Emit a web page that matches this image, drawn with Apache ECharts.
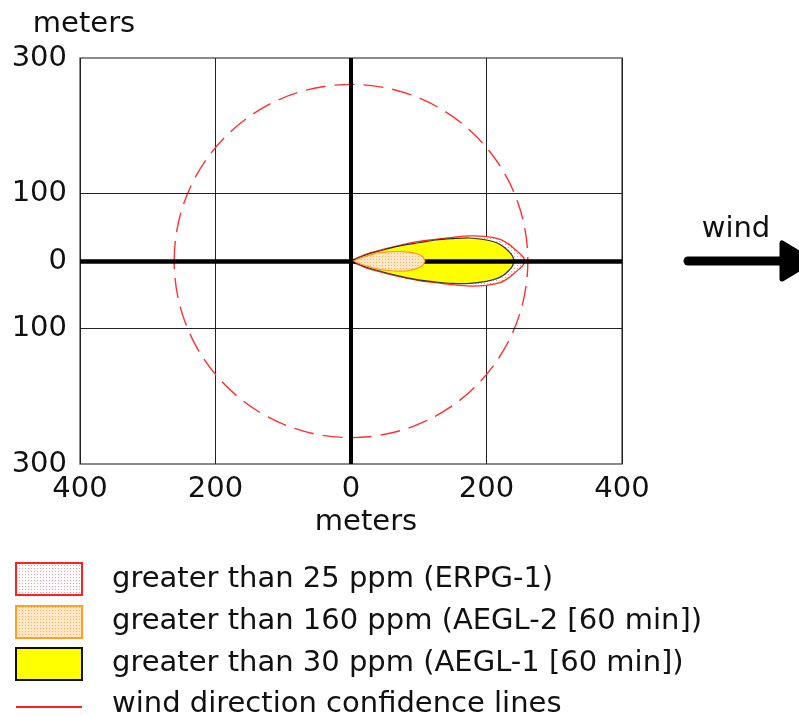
<!DOCTYPE html>
<html>
<head>
<meta charset="utf-8">
<script src="https://cdn.jsdelivr.net/npm/echarts@6/dist/echarts.min.js"></script>
<style>
html,body{margin:0;padding:0;background:#fff;}
#chart{width:799px;height:716px;}
</style>
</head>
<body>
<div id="chart"></div>
<script>
// ---- data (meters) ----
const xTicks = [-400, -200, 0, 200, 400];
const yTicks = [-300, -100, 0, 100, 300];
const yGridLines = [-100, 100];
const confidenceRadius = 261;

// ERPG-1 (>25 ppm) footprint
const erpgX   = [0, 10, 25, 50, 75, 100, 125, 150, 175, 200, 220, 231, 240, 248, 254, 257];
const erpgTop = [0, 5, 11, 18, 24, 29, 32, 35, 37, 36, 32, 26, 19, 12, 6, 0];
const erpgBot = [0, -5, -11, -18, -24, -29, -32, -35, -37, -36, -32, -26, -19, -12, -6, 0];

// AEGL-1 [60 min] (>30 ppm) footprint
const aegl1X   = [0, 10, 25, 50, 75, 100, 125, 150, 175, 200, 215, 225, 233, 238, 241];
const aegl1Top = [0, 4, 10, 17, 23, 27, 31, 33, 34, 31, 27, 21, 14, 8, 0];
const aegl1Bot = [0, -4, -10, -17, -23, -28, -31, -33, -33, -30, -26, -21, -14, -8, 0];

// AEGL-2 [60 min] (>160 ppm) footprint
const aegl2X   = [4, 10, 25, 40, 55, 75, 90, 100, 106, 109];
const aegl2Top = [0, 3, 8, 12, 13.5, 14, 12.5, 10, 6, 0];
const aegl2Bot = [0, -3, -8, -12, -14, -15, -13, -10, -6, 0];

const legendLabels = [
  'greater than 25 ppm (ERPG-1)',
  'greater than 160 ppm (AEGL-2 [60 min])',
  'greater than 30 ppm (AEGL-1 [60 min])',
  'wind direction confidence lines'
];

// ---- styles ----
const FONT = '"DejaVu Sans", Verdana, sans-serif';
const FS = 29;

function dotPattern(bg, dot) {
  const c = document.createElement('canvas');
  c.width = 3; c.height = 3;
  const g = c.getContext('2d');
  g.fillStyle = bg; g.fillRect(0, 0, 3, 3);
  g.fillStyle = dot; g.fillRect(1, 1, 1, 1);
  return c;
}
const redDots = dotPattern('#ffffff', '#ff9a9a');
const orangeDots = dotPattern('#ffe7c8', '#ffb25a');

function polygonPoints(api, xs, top, bot) {
  const pts = [];
  for (let i = 0; i < xs.length; i++) pts.push(api.coord([xs[i], top[i]]));
  for (let i = xs.length - 1; i >= 0; i--) pts.push(api.coord([xs[i], bot[i]]));
  return pts;
}

function shapeSeries(name, xs, top, bot, style, z) {
  return {
    type: 'custom', name: name, z: z, silent: true,
    data: [0],
    renderItem: function (params, api) {
      return {
        type: 'polygon',
        shape: { points: polygonPoints(api, xs, top, bot), smooth: 0.3 },
        style: style
      };
    }
  };
}

const chart = echarts.init(document.getElementById('chart'), null, { renderer: 'canvas' });

const option = {
  animation: false,
  backgroundColor: '#fff',
  grid: { left: 80, right: 177, top: 58, bottom: 252, show: true, borderColor: '#666', borderWidth: 1.5, backgroundColor: 'transparent' },
  xAxis: {
    type: 'value', min: xTicks[0], max: xTicks[xTicks.length - 1], interval: 200,
    axisLine: { show: false }, axisTick: { show: false },
    splitLine: { show: true, lineStyle: { color: '#222', width: 1 } },
    axisLabel: { fontFamily: FONT, fontSize: FS, color: '#111', margin: 11,
      formatter: v => xTicks.indexOf(v) >= 0 ? String(Math.abs(v)) : '' }
  },
  yAxis: {
    type: 'value', min: yTicks[0], max: yTicks[yTicks.length - 1], interval: 100,
    axisLine: { show: false }, axisTick: { show: false },
    splitLine: { show: false },
    axisLabel: { fontFamily: FONT, fontSize: FS, color: '#111', margin: 13,
      formatter: v => yTicks.indexOf(v) >= 0 ? String(Math.abs(v)) : '' }
  },
  series: [
    {
      type: 'custom', name: 'confidence', z: 2, silent: true, data: [0],
      renderItem: function (params, api) {
        const c = api.coord([0, 0]);
        const r = api.size([confidenceRadius, confidenceRadius]);
        return {
          type: 'ellipse',
          shape: { cx: c[0], cy: c[1], rx: r[0], ry: r[1] },
          style: { fill: null, stroke: '#ff3030', lineWidth: 1.4, lineDash: [20, 9] }
        };
      }
    },
    shapeSeries('ERPG-1', erpgX, erpgTop, erpgBot,
      { fill: { image: redDots, repeat: 'repeat' }, stroke: '#ff2a2a', lineWidth: 1.3 }, 3),
    shapeSeries('AEGL-1', aegl1X, aegl1Top, aegl1Bot,
      { fill: '#ffff00', stroke: '#333', lineWidth: 1.2 }, 4),
    shapeSeries('AEGL-2', aegl2X, aegl2Top, aegl2Bot,
      { fill: { image: orangeDots, repeat: 'repeat' }, stroke: '#ff9a1a', lineWidth: 1.2 }, 5),
    {
      type: 'line', name: 'gridlines', z: 6, data: [], silent: true,
      markLine: {
        silent: true, symbol: 'none', label: { show: false }, animation: false,
        data: yGridLines.map(v => ({ yAxis: v, lineStyle: { color: '#222', width: 1, type: 'solid' } }))
          .concat([
            { yAxis: 0, lineStyle: { color: '#000', width: 4.5, type: 'solid' } },
            { xAxis: 0, lineStyle: { color: '#000', width: 4, type: 'solid' } }
          ])
      }
    }
  ],
  graphic: [
    { type: 'text', x: 84, y: 24, style: { text: 'meters', font: FS + 'px ' + FONT, fill: '#111', align: 'center', verticalAlign: 'middle' } },
    { type: 'text', x: 366, y: 522, style: { text: 'meters', font: FS + 'px ' + FONT, fill: '#111', align: 'center', verticalAlign: 'middle' } },
    { type: 'text', x: 736, y: 229, style: { text: 'wind', font: FS + 'px ' + FONT, fill: '#111', align: 'center', verticalAlign: 'middle' } },
    { type: 'line', shape: { x1: 688, y1: 261, x2: 786, y2: 261 }, style: { stroke: '#000', lineWidth: 9, lineCap: 'round' } },
    { type: 'polygon', shape: { points: [[782, 243], [782, 279], [812, 261]] }, style: { fill: '#000', stroke: '#000', lineWidth: 5, lineJoin: 'round' } },
    // legend
    { type: 'rect', shape: { x: 16, y: 563, width: 66, height: 32 }, style: { fill: { image: redDots, repeat: 'repeat' }, stroke: '#ff2020', lineWidth: 2 } },
    { type: 'rect', shape: { x: 16, y: 606, width: 66, height: 32 }, style: { fill: { image: orangeDots, repeat: 'repeat' }, stroke: '#ffa020', lineWidth: 2 } },
    { type: 'rect', shape: { x: 16, y: 648, width: 66, height: 32 }, style: { fill: '#ffff00', stroke: '#111', lineWidth: 2 } },
    { type: 'line', shape: { x1: 16, y1: 707, x2: 82, y2: 707 }, style: { stroke: '#ff2020', lineWidth: 2 } },
    { type: 'text', x: 112, y: 579, style: { text: legendLabels[0], font: FS + 'px ' + FONT, fill: '#111', verticalAlign: 'middle' } },
    { type: 'text', x: 112, y: 621, style: { text: legendLabels[1], font: FS + 'px ' + FONT, fill: '#111', verticalAlign: 'middle' } },
    { type: 'text', x: 112, y: 663, style: { text: legendLabels[2], font: FS + 'px ' + FONT, fill: '#111', verticalAlign: 'middle' } },
    { type: 'text', x: 112, y: 704, style: { text: legendLabels[3], font: FS + 'px ' + FONT, fill: '#111', verticalAlign: 'middle' } }
  ]
};
chart.setOption(option);
</script>
</body>
</html>
